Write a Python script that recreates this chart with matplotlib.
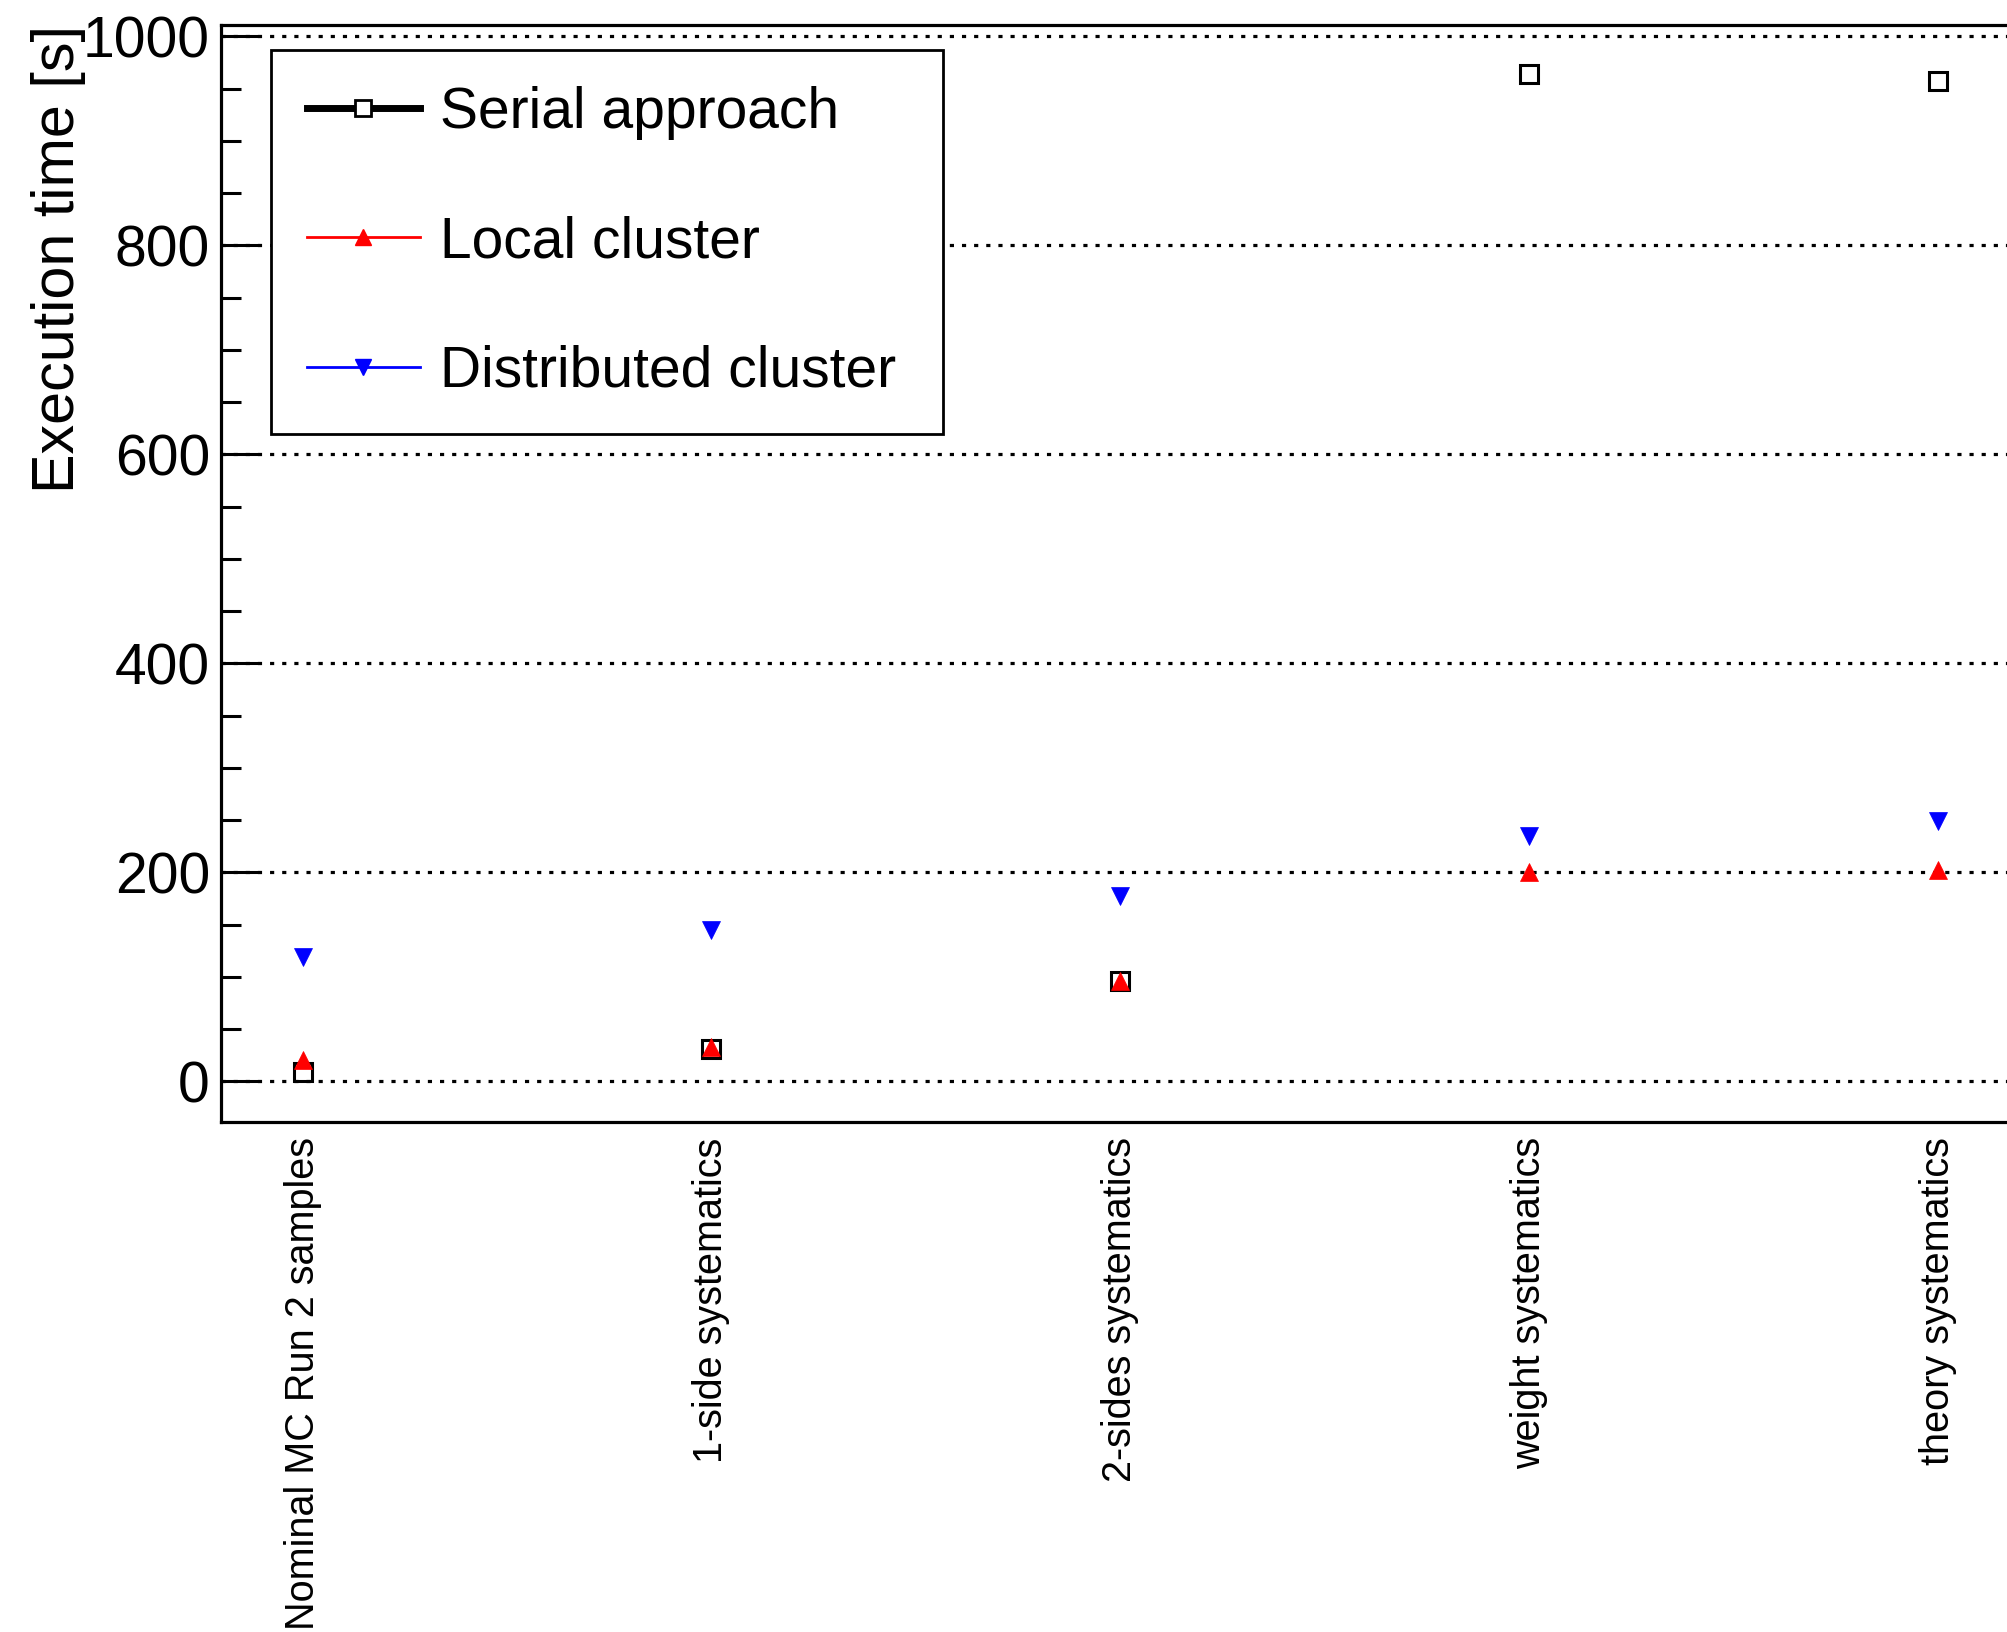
import matplotlib
matplotlib.use("Agg")
import matplotlib.pyplot as plt
from matplotlib.lines import Line2D
from matplotlib.ticker import MultipleLocator

plt.rcParams['font.family'] = ['Liberation Sans', 'DejaVu Sans']

# data
categories = ["Nominal MC Run 2 samples", "1-side systematics", "2-sides systematics",
              "weight systematics", "theory systematics"]
serial = [9, 31, 96, 964, 957]
local = [20, 33, 96, 200, 202]
distributed = [119, 145, 177, 235, 249]

x = list(range(len(categories)))

fig = plt.figure(figsize=(20.07, 16.32), dpi=100)
ax = fig.add_axes([221 / 2007, 1 - 1122 / 1632, 1 - 221 / 2007, (1122 - 25) / 1632])

# points only, no connecting lines
ax.plot(x, serial, linestyle='none', marker='s', ms=13, mfc='none', mec='black', mew=2.2, zorder=3)
ax.plot(x, local, linestyle='none', marker='^', ms=12.5, color='red', mec='red', mew=0.5, zorder=4)
ax.plot(x, distributed, linestyle='none', marker='v', ms=12.5, color='blue', mec='blue', mew=0.5, zorder=4)

ax.set_xlim(-0.2, 4.17)
ax.set_ylim(-39, 1011)

ax.set_xticks(x)
ax.set_xticklabels(categories, rotation=90, ha='center', va='top', fontsize=28.5)
ax.tick_params(axis='x', length=0, pad=11)

ax.yaxis.set_major_locator(MultipleLocator(200))
ax.yaxis.set_minor_locator(MultipleLocator(50))
ax.tick_params(axis='y', which='major', direction='in', length=29, width=2.2, labelsize=41, pad=8)
ax.tick_params(axis='y', which='minor', direction='in', length=14.5, width=2.2)
ax.tick_params(axis='y', which='both', right=False)

ax.yaxis.grid(True, which='major', color='black', linewidth=2.3, linestyle=(0, (1.3, 2.5)))
ax.set_axisbelow(True)

for side in ['left', 'bottom', 'top']:
    ax.spines[side].set_linewidth(2.3)
ax.spines['right'].set_visible(False)

fig.text(59 / 2007, 1 - 25 / 1632, "Execution time [s]", rotation=90, ha='center', va='top', fontsize=42.7)

# legend shows line + marker for each approach
handles = [
    Line2D([], [], color='black', lw=5, marker='s', ms=12, mfc='white', mec='black', mew=2),
    Line2D([], [], color='red', lw=2, marker='^', ms=11, mfc='red', mec='red'),
    Line2D([], [], color='blue', lw=2, marker='v', ms=11, mfc='blue', mec='blue'),
]
labels = ["Serial approach", "Local cluster", "Distributed cluster"]
leg = ax.legend(handles, labels, loc='upper left', bbox_to_anchor=(0.028, 0.631, 0.376, 0.346),
                mode='expand', borderaxespad=0, fontsize=41, frameon=True, fancybox=False,
                edgecolor='black', framealpha=1, borderpad=0.63, labelspacing=1.32,
                handlelength=1.98, handletextpad=0.36)
leg.get_frame().set_linewidth(2)
leg.set_zorder(5)

fig.savefig("out.png", dpi=100)
